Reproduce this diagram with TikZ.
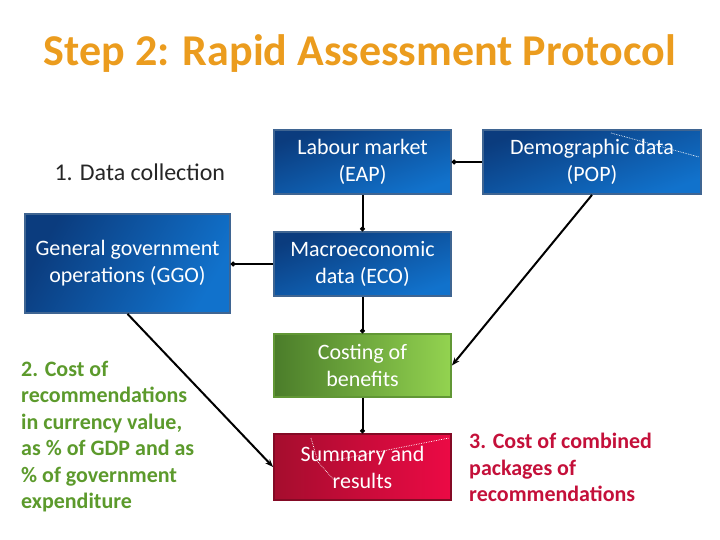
\documentclass[tikz,border=0pt]{standalone}
\usepackage{fontspec}
\setmainfont{Carlito}
\usetikzlibrary{arrows.meta}
\definecolor{titleor}{HTML}{EB9C1E}
\definecolor{navy}{HTML}{0B3C7E}
\definecolor{bblue}{HTML}{1172CC}
\definecolor{bborder}{HTML}{3F6592}
\definecolor{gdark}{HTML}{4B7D2A}
\definecolor{glight}{HTML}{93D350}
\definecolor{rdark}{HTML}{A50D2E}
\definecolor{rlight}{HTML}{EC0A45}
\definecolor{txtgreen}{HTML}{5C9A2C}
\definecolor{txtred}{HTML}{C4103A}
\tikzset{
  box/.style={draw=bborder, line width=1.8pt, minimum width=177pt, minimum height=64pt, inner sep=0pt,
     text=white, align=center, font=\fontsize{22}{27}\selectfont},
  bluebox/.style={box, shading=axis, top color=navy, bottom color=bblue, shading angle=20},
  greenbox/.style={box, draw=gdark!70!glight, left color=gdark, right color=glight},
  redbox/.style={box, draw=rdark!80!black, left color=rdark, right color=rlight},
  dotcon/.style={line width=2pt, -{Circle[length=4.5pt]}},
  arrcon/.style={line width=2pt, -{Stealth[length=8pt,width=6pt]}},
  artef/.style={white, densely dotted, line width=0.7pt}
}
\begin{document}
\begin{tikzpicture}[x=1pt,y=-1pt]
\useasboundingbox (0,0) rectangle (720,540);
\node[text=titleor, font=\fontsize{44}{46}\selectfont\bfseries] (title) at (360,54) {Step 2: Rapid Assessment Protocol};
\node[anchor=west, font=\fontsize{24}{28}\selectfont, text=black!85] (dc) at (51,172) {1. Data collection};
\node[bluebox] (eap) at (362.5,162) {Labour market\\(EAP)};
\node[bluebox, minimum width=218pt] (pop) at (592,162) {Demographic data\\(POP)};
\node[bluebox, minimum width=205pt, minimum height=99pt, shading angle=60] (ggo) at (127.5,263.5) {General government\\operations (GGO)};
\node[bluebox] (eco) at (362.5,264) {Macroeconomic\\data (ECO)};
\node[greenbox, minimum height=63pt] (cost) at (362.5,365.5) {Costing of\\benefits};
\node[redbox, minimum height=66pt] (sum) at (362.5,467) {Summary and\\results};
\node[anchor=north west, align=left, text=txtgreen, font=\fontsize{22}{26.4}\selectfont\bfseries, inner sep=0pt] (c2) at (21,361) {2. Cost of\\recommendations\\in currency value,\\as \% of GDP and as\\\% of government\\expenditure};
\node[anchor=north west, align=left, text=txtred, font=\fontsize{22}{26.4}\selectfont\bfseries, inner sep=0pt] (c3) at (469,433) {3. Cost of combined\\packages of\\recommendations};
% connectors
\draw[dotcon] (pop.west) -- (eap.east);
\draw[dotcon] (eap.south) -- (eco.north);
\draw[dotcon] (eco.west) -- (eco.west -| ggo.east);
\draw[dotcon] (eco.south) -- (cost.north);
\draw[dotcon] (cost.south) -- (sum.north);
\draw[arrcon] (ggo.south) -- (sum.west);
\draw[arrcon] (pop.south) -- (cost.east);
% artefact dotted lines
\draw[artef] (611,133) -- (699,157);
\draw[artef] (311,438) -- (318,462) -- (334,480);
\draw[artef] (331,461) -- (449,438);
\end{tikzpicture}
\end{document}
